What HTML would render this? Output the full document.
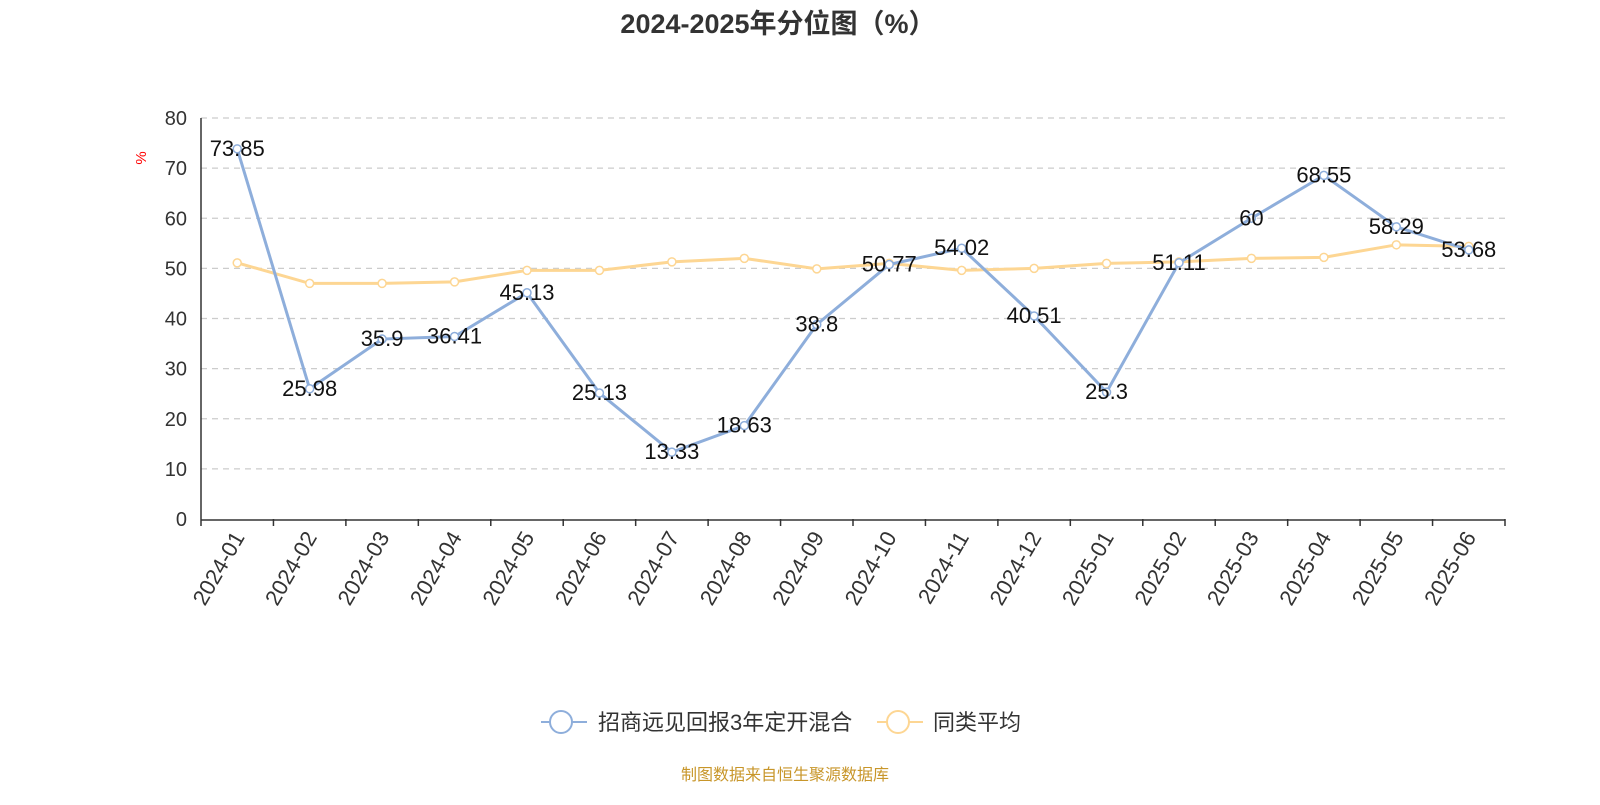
<!DOCTYPE html>
<html><head><meta charset="utf-8"><style>
body{margin:0;background:#fff;width:1600px;height:800px;overflow:hidden}
text{font-family:"Liberation Sans","Noto Sans CJK SC",sans-serif}
</style></head><body>
<svg id="c" width="1600" height="800">
<text x="778" y="33" text-anchor="middle" font-size="27" font-weight="bold" fill="#333">2024-2025年分位图（%）</text>
<text x="146" y="158" font-size="15" fill="red" transform="rotate(-90 146 158)" text-anchor="middle">%</text>
<g id="grid"></g><g id="axes"></g><g id="series"></g><g id="labels"></g>
<g>
<g>
<line x1="541" y1="722" x2="587" y2="722" stroke="#8eaedb" stroke-width="2"/>
<circle cx="561" cy="722" r="11" fill="#fff" stroke="#8eaedb" stroke-width="2"/>
<text x="598" y="730" font-size="22" fill="#333">招商远见回报3年定开混合</text></g>
<g>
<line x1="877" y1="722" x2="923" y2="722" stroke="#fdd693" stroke-width="2"/>
<circle cx="898" cy="722" r="11" fill="#fff" stroke="#fdd693" stroke-width="2"/>
<text x="933" y="730" font-size="22" fill="#333">同类平均</text></g>
</g>
<text x="785" y="780" text-anchor="middle" font-size="16" fill="#c8962a">制图数据来自恒生聚源数据库</text>
</svg>
<script>
const categories=["2024-01","2024-02","2024-03","2024-04","2024-05","2024-06","2024-07","2024-08","2024-09","2024-10","2024-11","2024-12","2025-01","2025-02","2025-03","2025-04","2025-05","2025-06"];
const fundValues=[73.85,25.98,35.9,36.41,45.13,25.13,13.33,18.63,38.8,50.77,54.02,40.51,25.3,51.11,60,68.55,58.29,53.68];
const avgValues=[51.1,47,47,47.3,49.6,49.6,51.3,52,49.9,51,49.6,50,51,51.3,52,52.2,54.7,54.4];
const yTicks=[0,10,20,30,40,50,60,70,80];
const NS="http://www.w3.org/2000/svg";
const L=201,R=1505,T=118,B=519,band=(R-L)/categories.length;
const x=i=>L+band*(i+0.5), y=v=>B-(v/80)*(B-T);
function mk(tag,attrs,parent,txt){const e=document.createElementNS(NS,tag);for(const k in attrs)e.setAttribute(k,attrs[k]);if(txt!==undefined)e.textContent=txt;document.getElementById(parent).appendChild(e);return e;}
yTicks.forEach(t=>{
 if(t>0){const g=mk('line',{x1:L,x2:R,y1:y(t),y2:y(t),stroke:'#ccc','stroke-dasharray':'6,5','stroke-width':1.3},'grid');
 
 }
 const tl=mk('text',{x:L-14,y:y(t)+7,'text-anchor':'end','font-size':20,fill:'#333'},'axes',t);
 
 
});
const ya=mk('line',{x1:L,x2:L,y1:T,y2:B,stroke:'#333','stroke-width':1.5},'axes');


const xa=mk('line',{x1:L,x2:R,y1:B+1,y2:B+1,stroke:'#333','stroke-width':1.5},'axes');


for(let i=0;i<=categories.length;i++){mk('line',{x1:L+band*i,x2:L+band*i,y1:B,y2:B+7,stroke:'#333','stroke-width':1.5},'axes');}
categories.forEach((c,i)=>{
 const tx=x(i)+8,ty=B+18;
 const t=mk('text',{x:tx,y:ty,'text-anchor':'end','font-size':22,fill:'#333',transform:`rotate(-60 ${tx} ${ty})`},'axes',c);
 
 
});
function series(vals,color,name,labels){
 const p=mk('polyline',{points:vals.map((v,i)=>x(i)+','+y(v)).join(' '),fill:'none',stroke:color,'stroke-width':3},'series');
 
 
 vals.forEach((v,i)=>{
  const c=mk('circle',{cx:x(i),cy:y(v),r:4,fill:'#fff',stroke:color,'stroke-width':1.5},'series');
  
  
  if(labels){const t=mk('text',{x:x(i),y:y(v)+7,'text-anchor':'middle','font-size':22,fill:'#111'},'labels',v);
  
  }
 });
}
series(avgValues,'#fdd693','average',false);
series(fundValues,'#8eaedb','fund',true);
</script>
</body></html>
